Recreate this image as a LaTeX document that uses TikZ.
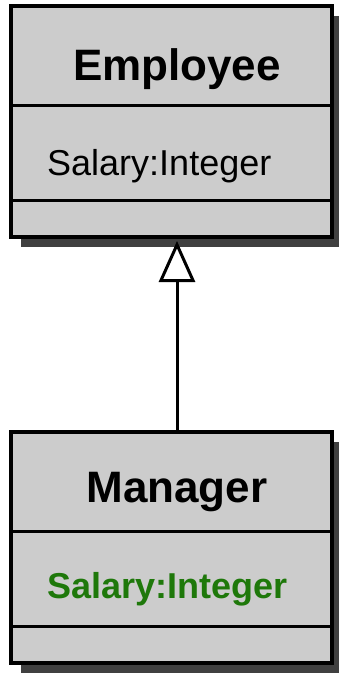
\documentclass[tikz,border=0pt]{standalone}
\usepackage{fontspec}
\setmainfont{Liberation Sans}
\usetikzlibrary{arrows.meta,shadows}
\definecolor{boxgrey}{RGB}{204,204,204}
\definecolor{shadowgrey}{RGB}{64,64,64}
\definecolor{attrgreen}{RGB}{30,120,10}
\tikzstyle{classbox}=[rectangle,draw=black,fill=boxgrey,line width=4pt,minimum width=321pt,minimum height=231pt,inner sep=0pt,drop shadow={shadow xshift=10pt,shadow yshift=-10pt,fill=shadowgrey,opacity=1}]
\tikzstyle{divider} = [draw,line width=3pt,-]
\tikzstyle{classname}=[font=\fontsize{44}{44}\selectfont\bfseries,inner sep=0pt]
\tikzstyle{attribute}=[font=\fontsize{36}{36}\selectfont,inner sep=0pt]
\tikzstyle{inherit} = [draw,line width=3pt,-{Triangle[open,length=41pt,width=36pt]},shorten >=2pt]

\begin{document}
\begin{tikzpicture}[x=1pt,y=-1pt]
    \useasboundingbox (0,0) rectangle (338,673);
    % First we draw the two classes
    \foreach \pos/\name in {{(171.5,121.5)/emp}, {(171.5,547.5)/mgr}}
        \node[classbox] (\name) at \pos {};

    % Split each class into compartments
    \foreach \name in {emp, mgr} {
        \path[divider] ([yshift=-101pt]\name.north west) -- ([yshift=-101pt]\name.north east);
        \path[divider] ([yshift=-196pt]\name.north west) -- ([yshift=-196pt]\name.north east);
    }

    % Names and attributes
    \node[classname,anchor=base] (empname) at (177,80) {Employee};
    \node[attribute,anchor=base west] (empattr) at (47,175) {Salary:Integer};
    \node[classname,anchor=base] (mgrname) at (177,502) {Manager};
    \node[attribute,anchor=base west,text=attrgreen,font=\fontsize{36}{36}\selectfont\bfseries] (mgrattr) at (47,598) {Salary:Integer};

    % Generalization
    \path[inherit] ([xshift=5.5pt]mgr.north) -- ([xshift=5.5pt]emp.south);
\end{tikzpicture}
\end{document}
